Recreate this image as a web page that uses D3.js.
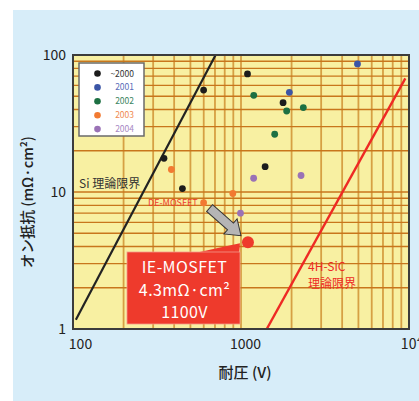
<!DOCTYPE html>
<html>
<head>
<meta charset="utf-8">
<script src="https://cdn.jsdelivr.net/npm/d3@7"></script>
<style>
  body { margin: 0; background: #fff; }
  svg { display: block; }
  text { font-family: "Noto Sans CJK JP", "Noto Sans", sans-serif; }
</style>
</head>
<body>
<svg id="chart" width="419" height="401"></svg>
<script>
// year groups for the legend
const years = ["~2000", "2001", "2002", "2003", "2004"];
const dotColors = ["#1c1c1c", "#3b55a6", "#1d7043", "#f27a32", "#9a72b6"];
const labelColors = ["#333333", "#5a6cb8", "#3a8460", "#f08a50", "#a889c4"];

// reported devices: breakdown voltage (V), on-resistance (mΩ·cm²), year group
const voltage    = [348, 599, 448, 1093, 1780, 1392, 4935, 1940, 1191, 1870, 2350, 1587, 385, 894, 599, 1189, 2277, 993];
const resistance = [17.6, 55.5, 10.6, 72.7, 44.9, 15.3, 86, 53.4, 50.8, 39, 41.3, 26.4, 14.6, 9.75, 8.35, 12.6, 13.2, 7.0];
const yearOf     = ["~2000", "~2000", "~2000", "~2000", "~2000", "~2000", "2001", "2001", "2002", "2002", "2002", "2002", "2003", "2003", "2003", "2004", "2004", "2004"];

// the IE-MOSFET highlight
const ieVoltage = 1100;
const ieResistance = 4.3;

// theoretical limit lines (end points)
const siLimit = [[104, 1.17], [706, 100]];
const sicLimit = [[1423, 1], [9510, 67.6]];

const xTicks = [100, 1000, 10000];
const yTicks = [1, 10, 100];

let svg = d3.select("#chart");

// light blue panel
svg.append("rect").attr("x", 13).attr("y", 10).attr("width", 406).attr("height", 391).attr("fill", "#d7edf9");

let x = d3.scaleLog().domain([100, 10000]).range([73, 409]);
let y = d3.scaleLog().domain([1, 100]).range([329, 55]);

// plot background
svg.append("rect").attr("x", 73).attr("y", 55).attr("width", 336).attr("height", 274).attr("fill", "#f8f0a2");

// log grid
let gridX = [], gridY = [];
[100, 1000].forEach(d => { for (let k = 2; k <= 9; k++) gridX.push(k * d); });
gridX.push(1000);
[1, 10].forEach(d => { for (let k = 2; k <= 9; k++) gridY.push(k * d); });
gridY.push(10);

let grid = svg.append("g");
grid.selectAll(".gx").data(gridX).join("line")
  .attr("x1", d => x(d)).attr("x2", d => x(d))
  .attr("y1", 55).attr("y2", 329)
  .attr("stroke", "#d6a044").attr("stroke-width", 1.8);
grid.selectAll(".gy").data(gridY).join("line")
  .attr("x1", 73).attr("x2", 409)
  .attr("y1", d => y(d)).attr("y2", d => y(d))
  .attr("stroke", "#c8761c").attr("stroke-width", 1.3);

// clip for the limit lines
svg.append("clipPath").attr("id", "plotClip")
  .append("rect").attr("x", 73).attr("y", 55).attr("width", 336).attr("height", 274);

let line = d3.line().x(d => x(d[0])).y(d => y(d[1]));
svg.append("path").datum(siLimit).attr("d", line)
  .attr("stroke", "#222").attr("stroke-width", 2.2).attr("fill", "none").attr("clip-path", "url(#plotClip)");
svg.append("path").datum(sicLimit).attr("d", line)
  .attr("stroke", "#ee2a24").attr("stroke-width", 2.4).attr("fill", "none").attr("clip-path", "url(#plotClip)");

// frame
svg.append("rect").attr("x", 73).attr("y", 55).attr("width", 336).attr("height", 274)
  .attr("fill", "none").attr("stroke", "#3c3c3c").attr("stroke-width", 2);

// axes (labels only)
let xAxis = svg.append("g").attr("transform", "translate(0,331)")
  .call(d3.axisBottom(x).tickValues(xTicks).tickSize(0).tickFormat(d => d === 10000 ? "10⁴" : d));
xAxis.select(".domain").remove();
xAxis.selectAll("text").attr("dx", (d, i) => [7, 4, 2][i]).attr("dy", "1.05em")
  .attr("font-size", 14).attr("fill", "#222").style("font-family", "'Noto Sans CJK JP', sans-serif");

let yAxis = svg.append("g").attr("transform", "translate(66,0)")
  .call(d3.axisLeft(y).tickValues(yTicks).tickSize(0).tickFormat(d => d));
yAxis.select(".domain").remove();
yAxis.selectAll("text").attr("x", 0).attr("dy", "0.32em")
  .attr("font-size", 14).attr("fill", "#222").style("font-family", "'Noto Sans CJK JP', sans-serif");

// axis titles
svg.append("text").attr("x", 245).attr("y", 378).attr("text-anchor", "middle")
  .attr("font-size", 15).attr("font-weight", 500).attr("fill", "#222").text("耐圧 (V)");
svg.append("text").attr("transform", "translate(33,202) rotate(-90)").attr("text-anchor", "middle")
  .attr("font-size", 14.5).attr("font-weight", 500).attr("fill", "#222").text("オン抵抗 (mΩ·cm²)");

// data points
let color = d3.scaleOrdinal().domain(years).range(dotColors);
let pts = voltage.map((v, i) => ({v: v, r: resistance[i], year: yearOf[i]}));
svg.append("g").selectAll("circle").data(pts).join("circle")
  .attr("cx", d => x(d.v)).attr("cy", d => y(d.r)).attr("r", 3.4)
  .attr("fill", d => color(d.year));

// limit labels
svg.append("text").attr("x", 79).attr("y", 188).attr("font-size", 12).attr("fill", "#333").text("Si 理論限界");
svg.append("text").attr("x", 308).attr("y", 270.5).attr("font-size", 12).attr("fill", "#ee2a24").text("4H-SiC");
svg.append("text").attr("x", 308).attr("y", 287.5).attr("font-size", 12).attr("fill", "#ee2a24").text("理論限界");

// DE-MOSFET label (next to its 2003 point)
svg.append("text").attr("x", x(599) - 6).attr("y", y(8.35) + 3.5).attr("text-anchor", "end")
  .attr("font-size", 9).attr("fill", "#ee3a2c").text("DE-MOSFET");

// gray block arrow pointing to the IE-MOSFET
let a0 = [x(650), y(7.64)], a1 = [x(1000), y(4.8)];
let ang = Math.atan2(a1[1] - a0[1], a1[0] - a0[0]) * 180 / Math.PI;
let len = Math.hypot(a1[0] - a0[0], a1[1] - a0[1]);
let hw = 4.5, hh = 10, hl = 14;
svg.append("path")
  .attr("transform", `translate(${a0[0]},${a0[1]}) rotate(${ang})`)
  .attr("d", `M0,${-hw} L${len - hl},${-hw} L${len - hl},${-hh} L${len},0 L${len - hl},${hh} L${len - hl},${hw} L0,${hw} Z`)
  .attr("fill", "#b5b5b5").attr("stroke", "#333").attr("stroke-width", 1);

// callout box
let bx = 127, by = 252, bw = 113, bh = 72;
svg.append("path")
  .attr("d", `M${bx + 68},${by + 1} Q${bx + 95},${by - 5} ${x(ieVoltage) - 8},${y(ieResistance) + 1} L${bx + bw - 1},${by + 4} Z`)
  .attr("fill", "#ee3a2c");
svg.append("rect").attr("x", bx).attr("y", by).attr("width", bw).attr("height", bh)
  .attr("fill", "#ee3a2c").attr("stroke", "#f39a8a").attr("stroke-width", 0.8);
let callout = ["IE-MOSFET", "4.3mΩ·cm²", "1100V"];
svg.append("g").selectAll("text").data(callout).join("text")
  .attr("x", bx + bw / 2 + 1).attr("y", (d, i) => by + 21 + i * 22.5)
  .attr("text-anchor", "middle").attr("font-size", 16).attr("fill", "#fff")
  .attr("letter-spacing", 0.4).text(d => d);

// IE-MOSFET point
svg.append("circle").attr("cx", x(ieVoltage)).attr("cy", y(ieResistance)).attr("r", 6)
  .attr("fill", "#ee3a2c");

// legend
let lg = svg.append("g");
lg.append("rect").attr("x", 79).attr("y", 63).attr("width", 65).attr("height", 73)
  .attr("fill", "#fff").attr("stroke", "#6a6a6a").attr("stroke-width", 1.5);
years.forEach((yr, i) => {
  lg.append("circle").attr("cx", 97.5).attr("cy", 73.5 + i * 13.9).attr("r", 3.3).attr("fill", dotColors[i]);
  lg.append("text").attr("x", 134).attr("y", 76.5 + i * 13.9).attr("text-anchor", "end")
    .attr("font-size", 8.5).attr("fill", labelColors[i]).text(yr);
});
</script>
</body>
</html>
